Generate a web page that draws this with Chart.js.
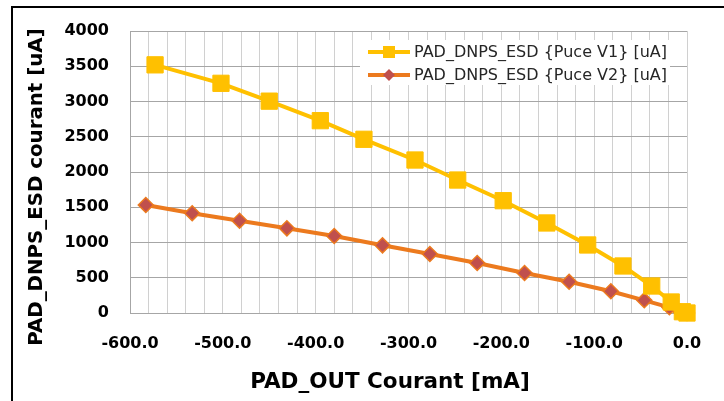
<!DOCTYPE html>
<html>
<head>
<meta charset="utf-8">
<script src="https://cdn.jsdelivr.net/npm/chart.js@4.4.0/dist/chart.umd.min.js"></script>
<style>
  html, body { margin: 0; padding: 0; background: #fff; }
  #wrap { position: relative; width: 724px; height: 401px; }
  #frame { position: absolute; left: 11px; top: 6px; right: 0; bottom: 0;
           border-left: 2px solid #000; border-top: 2px solid #000; pointer-events: none; }
</style>
</head>
<body>
<div id="wrap">
  <canvas id="myChart" width="724" height="401"></canvas>
  <div id="frame"></div>
</div>
<script>
// values
var v1Labels = "PAD_DNPS_ESD {Puce V1} [uA]";
var v2Labels = "PAD_DNPS_ESD {Puce V2} [uA]";
var xTitle = "PAD_OUT Courant [mA]";
var yTitle = "PAD_DNPS_ESD courant [uA]";
var xV1 = [-573, -502, -450, -395, -348, -293, -247, -198, -151, -107, -69, -38, -17, -5, 0];
var yV1 = [3520, 3258, 3005, 2728, 2464, 2170, 1886, 1593, 1277, 965, 667, 383, 156, 18, 0];
var xV2 = [-583, -533, -482, -431, -380, -328, -277, -226, -175, -127, -82, -46, -19, -7, 0];
var yV2 = [1532, 1414, 1309, 1201, 1092, 960, 837, 709, 567, 444, 309, 180, 81, 17, 0];

var xMin = -600, xMax = 0, xStep = 20, xLabelEvery = 100;
var yMin = 0, yMax = 4000, yStep = 500;

function pts(xs, ys) {
    var out = [];
    for (var i = 0; i < xs.length; i++) out.push({x: xs[i], y: ys[i]});
    return out;
}

// little legend box inside the plot, top right
var legendBox = {
    id: "legendBox",
    beforeDatasetsDraw: function(chart) {
        var c = chart.ctx, area = chart.chartArea;
        var x0 = area.right - 327, y0 = area.top + 9;
        c.save();
        c.fillStyle = "#fff";
        c.fillRect(x0, y0, 310, 45);
        chart.data.datasets.forEach(function(ds, i) {
            var y = y0 + 12 + i * 23;
            var mx = x0 + 29;
            c.strokeStyle = ds.borderColor;
            c.lineWidth = 4;
            c.beginPath();
            c.moveTo(x0 + 8, y);
            c.lineTo(x0 + 50, y);
            c.stroke();
            if (ds.pointStyle == "rect") {
                c.fillStyle = ds.pointBackgroundColor;
                c.fillRect(mx - 6, y - 6, 12, 12);
            } else {
                c.beginPath();
                c.moveTo(mx, y - 6);
                c.lineTo(mx + 6, y);
                c.lineTo(mx, y + 6);
                c.lineTo(mx - 6, y);
                c.closePath();
                c.fillStyle = ds.pointBackgroundColor;
                c.fill();
            }
            c.fillStyle = "#262626";
            c.font = "16px 'DejaVu Sans'";
            c.textBaseline = "middle";
            c.textAlign = "left";
            c.fillText(ds.label, x0 + 54, y + 1);
        });
        c.restore();
    }
};

// axis titles sit a bit off-centre in the original, so place them by hand
var axisTitles = {
    id: "axisTitles",
    afterDraw: function(chart) {
        var c = chart.ctx;
        c.save();
        c.fillStyle = "#000";
        c.textAlign = "center";
        c.textBaseline = "middle";
        c.font = "bold 21.5px 'DejaVu Sans'";
        c.fillText(xTitle, 390, 382);
        c.translate(37, 187);
        c.rotate(-Math.PI / 2);
        c.font = "bold 19.8px 'DejaVu Sans'";
        c.fillText(yTitle, 0, 0);
        c.restore();
    }
};

const ctx = document.getElementById("myChart");
new Chart(ctx, {
    type: "scatter",
    data: {
        datasets: [{
            label: v1Labels,
            data: pts(xV1, yV1),
            showLine: true,
            borderColor: "#FFC000",
            borderWidth: 4,
            pointStyle: "rect",
            pointRadius: 11.5,
            pointBackgroundColor: "#FFC000",
            pointBorderColor: "#FFC000",
            pointBorderWidth: 1,
            clip: false
        }, {
            label: v2Labels,
            data: pts(xV2, yV2),
            showLine: true,
            borderColor: "#EC7A1E",
            borderWidth: 4,
            pointStyle: "rectRot",
            pointRadius: 7.5,
            pointBackgroundColor: "#C0504D",
            pointBorderColor: "#EC7A1E",
            pointBorderWidth: 1.5,
            clip: false
        }]
    },
    options: {
        responsive: false,
        animation: false,
        layout: { padding: { left: 21, top: 31, right: 37, bottom: 3 } },
        plugins: {
            legend: { display: false },
            tooltip: { enabled: false }
        },
        scales: {
            x: {
                type: "linear",
                min: xMin, max: xMax,
                grid: { color: "#d0d0d0", drawTicks: false },
                border: { color: "#a6a6a6" },
                ticks: {
                    stepSize: xStep,
                    autoSkip: false,
                    maxRotation: 0,
                    padding: 21,
                    color: "#000",
                    font: { family: "DejaVu Sans", size: 16, weight: "bold" },
                    callback: function(v) {
                        return Math.round(v) % xLabelEvery == 0 ? Math.abs(v) < 1e-9 ? "0.0" : v.toFixed(1) : "";
                    }
                },
                afterFit: function(s) { s.height = 85; }
            },
            y: {
                min: yMin, max: yMax,
                grid: { color: "#a6a6a6", drawTicks: false },
                border: { color: "#a6a6a6" },
                ticks: {
                    stepSize: yStep,
                    padding: 21,
                    color: "#000",
                    font: { family: "DejaVu Sans", size: 16, weight: "bold" },
                    callback: function(v) { return String(v); }
                },
                afterFit: function(s) { s.width = 109; }
            }
        }
    },
    plugins: [legendBox, axisTitles]
});
</script>
</body>
</html>
